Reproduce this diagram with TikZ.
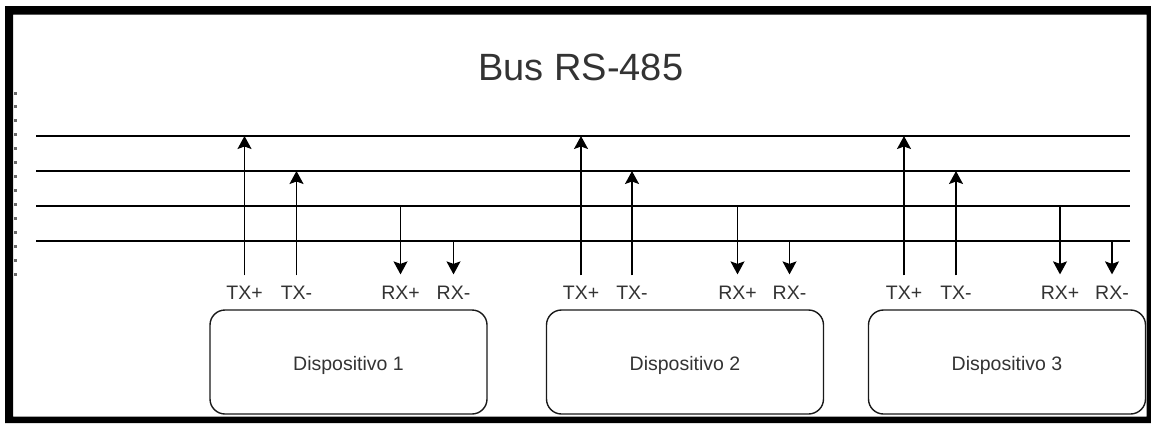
\documentclass[tikz,border=0pt]{standalone}
\usepackage{fontspec}
\setmainfont{Liberation Sans}
\usetikzlibrary{arrows.meta}
\definecolor{txt}{HTML}{333333}
\definecolor{handle}{HTML}{6A6A6A}
\begin{document}
\begin{tikzpicture}[x=1pt,y=-1pt,
  bus/.style={line width=1.5pt,black},
  sig/.style={line width=1.5pt,black,-{Stealth[length=13pt,width=14pt,inset=2.5pt]}},
  pin/.style={font=\fontsize{19.5}{22}\selectfont,text=txt,inner sep=0pt,anchor=base},
  dev/.style={draw=black!90,line width=1.4pt,rounded corners=15pt,minimum width=277pt,minimum height=104pt,inner sep=0pt},
  devtext/.style={font=\fontsize{19.5}{22}\selectfont,text=txt,inner sep=0pt,anchor=base},
  title/.style={font=\fontsize{38}{42}\selectfont,text=txt,inner sep=0pt,anchor=base},
]
\useasboundingbox (0,0) rectangle (1151,423);
\fill[white] (0,0) rectangle (1151,423);

% title
\node[title] (title) at (580.8,80) {Bus RS-485};

% selection handles on the left
\foreach \i in {0,...,13}
  \fill[handle] (13.5,{93+\i*13.93-1.5}) rectangle (16.5,{93+\i*13.93+1.5});

% bus lines
\foreach \n/\y in {1/136,2/171,3/206,4/241} {
  \coordinate (b\n w) at (36,\y);
  \coordinate (b\n e) at (1130,\y);
  \draw[bus] (b\n w) -- (b\n e);
}

% devices
\foreach \d/\l/\r/\tp/\tm/\rp/\rm in {1/210/487/244.5/296.5/400.5/453.5,
                                      2/546/824/581/632/737.5/789.5,
                                      3/868/1146/904/956/1060/1112} {
  \node[dev] (dev\d) at ({(\l+\r)/2},362) {};
  \node[devtext] (devl\d) at ({(\l+\r)/2},370.5) {Dispositivo \d};
  \node[pin] (tp\d) at (\tp,299.5) {TX+};
  \node[pin] (tm\d) at (\tm,299.5) {TX-};
  \node[pin] (rp\d) at (\rp,299.5) {RX+};
  \node[pin] (rm\d) at (\rm,299.5) {RX-};
  \draw[sig] ([yshift=10.5pt]tp\d.north) -- (tp\d.north |- b1w);
  \draw[sig] ([yshift=10.5pt]tm\d.north) -- (tm\d.north |- b2w);
  \draw[sig] (rp\d.north |- b3w) -- ([yshift=11.5pt]rp\d.north);
  \draw[sig] (rm\d.north |- b4w) -- ([yshift=11.5pt]rm\d.north);
}

% thick outer frame
\fill[black,even odd rule] (5,6) rectangle (1151,423) (13,14.5) rectangle (1146.5,416.5);
\end{tikzpicture}
\end{document}
